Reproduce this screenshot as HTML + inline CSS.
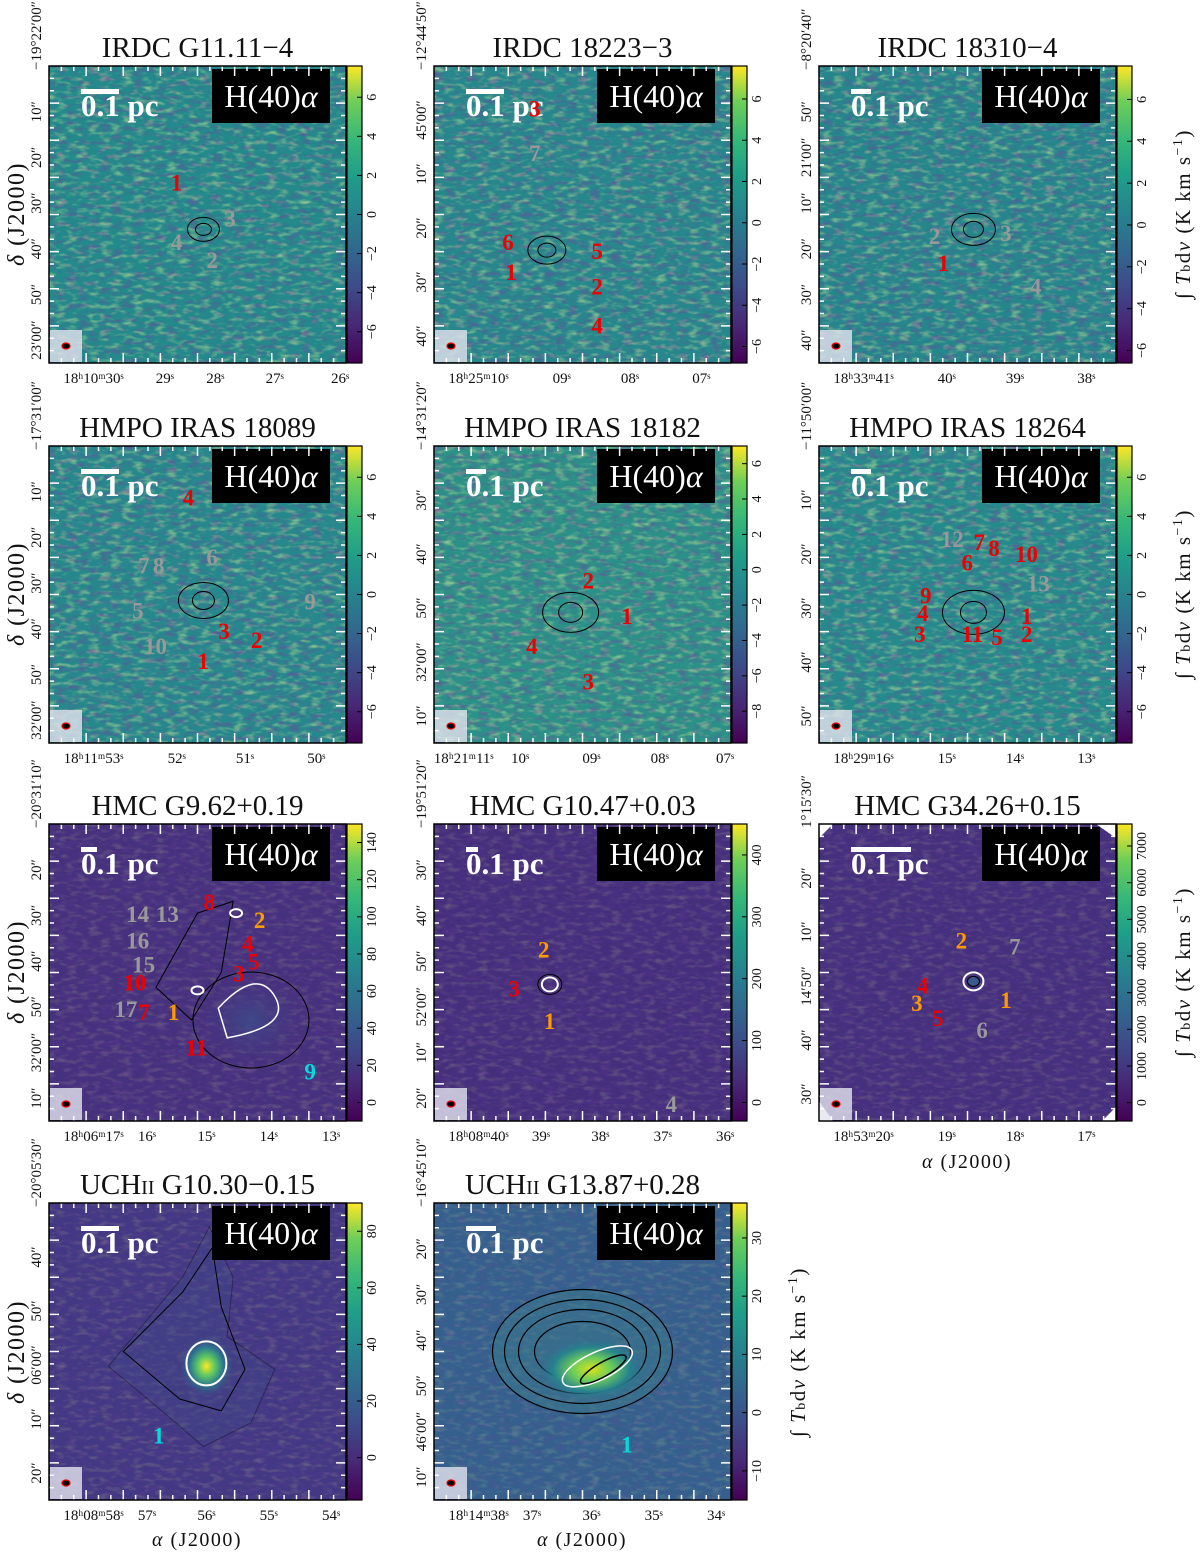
<!DOCTYPE html>
<html><head><meta charset="utf-8">
<style>
body{margin:0;background:#fff;width:1200px;height:1552px;overflow:hidden;font-family:"Liberation Serif",serif}
svg{position:absolute;left:0;top:0}
</style></head>
<body>
<svg id="fig" width="1200" height="1552" viewBox="0 0 1200 1552" xmlns="http://www.w3.org/2000/svg">
<defs>
<filter id="noise" x="0" y="0" width="100%" height="100%">
<feTurbulence type="fractalNoise" baseFrequency="0.09 0.22" numOctaves="2" seed="3"/>
<feColorMatrix type="matrix" values="0 0 0 0 0.85  0 0 0 0 0.95  0 0 0 0 0.3  0 0 0 2.2 -1.05"/>
</filter>
<filter id="noiseDark" x="0" y="0" width="100%" height="100%">
<feTurbulence type="fractalNoise" baseFrequency="0.09 0.22" numOctaves="2" seed="7"/>
<feColorMatrix type="matrix" values="0 0 0 0 0.2  0 0 0 0 0.05  0 0 0 0 0.35  0 0 0 2.2 -1.05"/>
</filter>
<linearGradient id="viridis" x1="0" y1="1" x2="0" y2="0">
<stop offset="0" stop-color="#440154"/><stop offset="0.13" stop-color="#482878"/>
<stop offset="0.25" stop-color="#3e4989"/><stop offset="0.38" stop-color="#31688e"/>
<stop offset="0.5" stop-color="#26828e"/><stop offset="0.63" stop-color="#1f9e89"/>
<stop offset="0.75" stop-color="#35b779"/><stop offset="0.88" stop-color="#6ece58"/>
<stop offset="1" stop-color="#fde725"/></linearGradient>
<radialGradient id="blobA"><stop offset="0" stop-color="#d8e219"/><stop offset="0.35" stop-color="#6ece58"/><stop offset="0.7" stop-color="#26828e"/><stop offset="1" stop-color="#31688e" stop-opacity="0"/></radialGradient>
<radialGradient id="blobB"><stop offset="0" stop-color="#fde725"/><stop offset="0.3" stop-color="#5ec962"/><stop offset="0.6" stop-color="#2a788e"/><stop offset="1" stop-color="#433e85" stop-opacity="0"/></radialGradient>
<radialGradient id="blobC"><stop offset="0" stop-color="#3e4989"/><stop offset="1" stop-color="#46337f" stop-opacity="0"/></radialGradient>
</defs>
<g id="root"></g>
</svg>
<script>
// colorbar data per panel
const cbTicks1=[-6,-4,-2,0,2,4,6], cbRange1=[-7.6,7.6];
const cbTicks2=[-6,-4,-2,0,2,4,6], cbRange2=[-6.8,7.6];
const cbTicks3=[-6,-4,-2,0,2,4,6], cbRange3=[-6.6,7.6];
const cbTicks4=[-6,-4,-2,0,2,4,6], cbRange4=[-7.6,7.6];
const cbTicks5=[-8,-6,-4,-2,0,2,4,6], cbRange5=[-9.8,7.0];
const cbTicks6=[-6,-4,-2,0,2,4,6], cbRange6=[-7.6,7.6];
const cbTicks7=[0,20,40,60,80,100,120,140], cbRange7=[-10,150];
const cbTicks8=[0,100,200,300,400], cbRange8=[-30,450];
const cbTicks9=[0,1000,2000,3000,4000,5000,6000,7000], cbRange9=[-500,7600];
const cbTicks10=[0,20,40,60,80], cbRange10=[-15,90];
const cbTicks11=[-10,0,10,20,30], cbRange11=[-15,36];
const titles=["IRDC G11.11−4","IRDC 18223−3","IRDC 18310−4","HMPO IRAS 18089","HMPO IRAS 18182","HMPO IRAS 18264","HMC G9.62+0.19","HMC G10.47+0.03","HMC G34.26+0.15","UCH<tspan font-size='20'>II</tspan> G10.30−0.15","UCH<tspan font-size='20'>II</tspan> G13.87+0.28"];
const raLabels=[["18ʰ10ᵐ30ˢ","29ˢ","28ˢ","27ˢ","26ˢ"],["18ʰ25ᵐ10ˢ","09ˢ","08ˢ","07ˢ"],["18ʰ33ᵐ41ˢ","40ˢ","39ˢ","38ˢ"],["18ʰ11ᵐ53ˢ","52ˢ","51ˢ","50ˢ"],["18ʰ21ᵐ11ˢ","10ˢ","09ˢ","08ˢ","07ˢ"],["18ʰ29ᵐ16ˢ","15ˢ","14ˢ","13ˢ"],["18ʰ06ᵐ17ˢ","16ˢ","15ˢ","14ˢ","13ˢ"],["18ʰ08ᵐ40ˢ","39ˢ","38ˢ","37ˢ","36ˢ"],["18ʰ53ᵐ20ˢ","19ˢ","18ˢ","17ˢ"],["18ʰ08ᵐ58ˢ","57ˢ","56ˢ","55ˢ","54ˢ"],["18ʰ14ᵐ38ˢ","37ˢ","36ˢ","35ˢ","34ˢ"]];
const raPos=[[0.15,0.39,0.56,0.76,0.98],[0.15,0.43,0.66,0.9],[0.15,0.43,0.66,0.9],[0.15,0.43,0.66,0.9],[0.1,0.29,0.53,0.76,0.98],[0.15,0.43,0.66,0.9],[0.15,0.33,0.53,0.74,0.95],[0.15,0.36,0.56,0.77,0.98],[0.15,0.43,0.66,0.9],[0.15,0.33,0.53,0.74,0.95],[0.15,0.33,0.53,0.74,0.95]];
const decLabels=[["−19°22′00″","10″","20″","30″","40″","50″","23′00″"],["−12°44′50″","45′00″","10″","20″","30″","40″"],["−8°20′40″","50″","21′00″","10″","20″","30″","40″"],["−17°31′00″","10″","20″","30″","40″","50″","32′00″"],["−14°31′20″","30″","40″","50″","32′00″","10″"],["−11°50′00″","10″","20″","30″","40″","50″"],["−20°31′10″","20″","30″","40″","50″","32′00″","10″"],["−19°51′20″","30″","40″","50″","52′00″","10″","20″"],["1°15′30″","20″","10″","14′50″","40″","30″"],["−20°05′30″","40″","50″","06′00″","10″","20″"],["−16°45′10″","20″","30″","40″","50″","46′00″","10″"]];
const cols=[49,434,819], rows=[66,446,824,1203], S=297;
const bgs=["#23898b","#26878c","#25868c","#26888c","#2b9088","#258a8c","#46317e","#452f7d","#45307e","#433883","#35608d"];
const cbT=[cbTicks1,cbTicks2,cbTicks3,cbTicks4,cbTicks5,cbTicks6,cbTicks7,cbTicks8,cbTicks9,cbTicks10,cbTicks11];
const cbR=[cbRange1,cbRange2,cbRange3,cbRange4,cbRange5,cbRange6,cbRange7,cbRange8,cbRange9,cbRange10,cbRange11];
const scaleW=[38,38,20,38,20,20,16,12,60,38,30];
// source labels [text,color,fx,fy]
const srcLabels=[
[["1","#e00",0.41,0.42],["3","#999",0.59,0.54],["4","#999",0.41,0.62],["2","#999",0.53,0.68]],
[["3","#e00",0.32,0.17],["7","#999",0.32,0.32],["6","#e00",0.23,0.62],["5","#e00",0.53,0.65],["1","#e00",0.24,0.72],["2","#e00",0.53,0.77],["4","#e00",0.53,0.9]],
[["2","#999",0.37,0.6],["3","#999",0.61,0.59],["1","#e00",0.4,0.69],["4","#999",0.71,0.77]],
[["4","#e00",0.45,0.2],["7","#999",0.3,0.43],["8","#999",0.35,0.43],["6","#999",0.53,0.4],["9","#999",0.86,0.55],["5","#999",0.28,0.58],["3","#e00",0.57,0.65],["2","#e00",0.68,0.68],["10","#999",0.32,0.7],["1","#e00",0.5,0.75]],
[["2","#e00",0.5,0.48],["1","#e00",0.63,0.6],["4","#e00",0.31,0.7],["3","#e00",0.5,0.82]],
[["12","#999",0.41,0.34],["7","#e00",0.52,0.35],["8","#e00",0.57,0.37],["10","#e00",0.66,0.39],["6","#e00",0.48,0.42],["13","#999",0.7,0.49],["9","#e00",0.34,0.53],["4","#e00",0.33,0.59],["1","#e00",0.68,0.6],["3","#e00",0.32,0.66],["11","#e00",0.48,0.66],["5","#e00",0.58,0.67],["2","#e00",0.68,0.66]],
[["14","#999",0.26,0.33],["13","#999",0.36,0.33],["8","#e00",0.52,0.29],["2","#f90",0.69,0.35],["16","#999",0.26,0.42],["4","#e00",0.65,0.43],["5","#e00",0.67,0.49],["15","#999",0.28,0.5],["3","#e00",0.62,0.53],["10","#e00",0.25,0.56],["17","#999",0.22,0.65],["7","#e00",0.3,0.66],["1","#f90",0.4,0.66],["11","#e00",0.46,0.78],["9","#0dd",0.86,0.86]],
[["2","#f90",0.35,0.45],["3","#e00",0.25,0.58],["1","#f90",0.37,0.69],["4","#999",0.78,0.97]],
[["2","#f90",0.46,0.42],["7","#999",0.64,0.44],["4","#e00",0.33,0.57],["3","#f90",0.31,0.63],["1","#f90",0.61,0.62],["5","#e00",0.38,0.68],["6","#999",0.53,0.72]],
[["1","#0dd",0.35,0.81]],
[["1","#0dd",0.63,0.84]]];
const root=document.getElementById('root');
const NS='http://www.w3.org/2000/svg';
function mk(tag,attrs,parent,txt){const e=document.createElementNS(NS,tag);for(const k in attrs)e.setAttribute(k,attrs[k]);if(txt!==undefined)e.innerHTML=txt;(parent||root).appendChild(e);return e;}
titles.forEach((t,i)=>{
 const x0=cols[i%3], y0=rows[Math.floor(i/3)];
 const g=mk('g',{});
 
 
 const tt=mk('text',{x:x0+S/2,y:y0-9,'text-anchor':'middle','font-size':29,fill:'#111'},g,t);
 
 
 const bg=mk('rect',{x:x0,y:y0,width:S,height:S,fill:bgs[i]},g);
 
 
 mk('rect',{x:x0,y:y0,width:S,height:S,filter:'url(#noise)',opacity:i<6?0.55:0.2},g);
 mk('rect',{x:x0,y:y0,width:S,height:S,filter:'url(#noiseDark)',opacity:i<6?0.6:0.25},g);
 if(i<6){
  const pts=[[0.52,0.55],[0.38,0.62],[0.52,0.55],[0.52,0.52],[0.46,0.56],[0.52,0.56]][i];
  mk('ellipse',{cx:x0+pts[0]*S,cy:y0+pts[1]*S,rx:16+i*3,ry:12+i*2,fill:'none',stroke:'#000','stroke-width':1},g);
  mk('ellipse',{cx:x0+pts[0]*S,cy:y0+pts[1]*S,rx:8+i,ry:6+i,fill:'none',stroke:'#000','stroke-width':1},g);
 }
 if(i==6){
  mk('ellipse',{cx:x0+0.68*S,cy:y0+0.66*S,rx:55,ry:45,fill:'url(#blobC)'},g);
  mk('ellipse',{cx:x0+0.68*S,cy:y0+0.66*S,rx:58,ry:48,fill:'none',stroke:'#000'},g);
  mk('path',{d:`M${x0+0.57*S} ${y0+0.62*S} Q${x0+0.7*S} ${y0+0.48*S} ${x0+0.76*S} ${y0+0.58*S} T${x0+0.6*S} ${y0+0.72*S} Z`,fill:'none',stroke:'#fff','stroke-width':1.5},g);
  mk('path',{d:`M${x0+0.36*S} ${y0+0.55*S} L${x0+0.5*S} ${y0+0.3*S} L${x0+0.62*S} ${y0+0.26*S} L${x0+0.58*S} ${y0+0.5*S} L${x0+0.48*S} ${y0+0.66*S} Z`,fill:'none',stroke:'#000'},g);
  mk('ellipse',{cx:x0+0.5*S,cy:y0+0.56*S,rx:6,ry:4,fill:'none',stroke:'#fff','stroke-width':2},g);
  mk('ellipse',{cx:x0+0.63*S,cy:y0+0.3*S,rx:6,ry:4,fill:'none',stroke:'#fff','stroke-width':2},g);
 }
 if(i==7){mk('ellipse',{cx:x0+0.39*S,cy:y0+0.54*S,rx:8,ry:7,fill:'none',stroke:'#fff','stroke-width':2},g);mk('ellipse',{cx:x0+0.39*S,cy:y0+0.54*S,rx:12,ry:10,fill:'none',stroke:'#000'},g);}
 if(i==8){mk('ellipse',{cx:x0+0.52*S,cy:y0+0.53*S,rx:10,ry:9,fill:'none',stroke:'#fff','stroke-width':2},g);mk('ellipse',{cx:x0+0.52*S,cy:y0+0.53*S,rx:6,ry:5,fill:'#3a5a8c',stroke:'#000'},g);
  mk('path',{d:`M${x0} ${y0} h14 l-14 14 Z M${x0+S} ${y0+S} h-14 l14 -14 Z M${x0+S-20} ${y0} h20 v14 Z M${x0} ${y0+S-20} v20 h14 Z`,fill:'#fff'},g);}
 if(i==9){
  mk('path',{d:`M${x0+0.2*S} ${y0+0.55*S} L${x0+0.45*S} ${y0+0.25*S} L${x0+0.54*S} ${y0+0.08*S} L${x0+0.62*S} ${y0+0.25*S} L${x0+0.6*S} ${y0+0.45*S} L${x0+0.76*S} ${y0+0.56*S} L${x0+0.68*S} ${y0+0.74*S} L${x0+0.52*S} ${y0+0.82*S} L${x0+0.38*S} ${y0+0.7*S} Z`,fill:'#3e4a89',opacity:0.35,stroke:'#000'},g);
  mk('path',{d:`M${x0+0.25*S} ${y0+0.5*S} L${x0+0.45*S} ${y0+0.3*S} L${x0+0.55*S} ${y0+0.15*S} L${x0+0.58*S} ${y0+0.35*S} L${x0+0.66*S} ${y0+0.56*S} L${x0+0.58*S} ${y0+0.7*S} L${x0+0.44*S} ${y0+0.66*S} Z`,fill:'none',stroke:'#000'},g);
  mk('ellipse',{cx:x0+0.53*S,cy:y0+0.55*S,rx:28,ry:32,fill:'url(#blobB)'},g);
  mk('ellipse',{cx:x0+0.53*S,cy:y0+0.54*S,rx:20,ry:22,fill:'none',stroke:'#fff','stroke-width':2},g);
 }
 if(i==10){
  [[90,62],[78,52],[64,42],[48,30]].forEach(r=>mk('ellipse',{cx:x0+0.5*S,cy:y0+0.5*S,rx:r[0],ry:r[1],fill:r[0]==90?'#3a7a8c':'none','fill-opacity':0.5,stroke:'#000','stroke-width':1.2},g));
  mk('ellipse',{cx:x0+0.53*S,cy:y0+0.56*S,rx:55,ry:32,fill:'url(#blobA)'},g);
  mk('ellipse',{cx:x0+0.55*S,cy:y0+0.55*S,rx:38,ry:14,fill:'none',stroke:'#fff','stroke-width':1.5,transform:`rotate(-25 ${x0+0.55*S} ${y0+0.55*S})`},g);
  mk('ellipse',{cx:x0+0.57*S,cy:y0+0.56*S,rx:26,ry:7,fill:'none',stroke:'#000','stroke-width':1.5,transform:`rotate(-30 ${x0+0.57*S} ${y0+0.56*S})`},g);
 }
 const bb=mk('rect',{x:x0+1,y:y0+S-33,width:32,height:32,fill:'#e4e4ef',opacity:0.8},g);
 
 
 mk('ellipse',{cx:x0+17,cy:y0+S-17,rx:4,ry:3,fill:'#000',stroke:'#e00','stroke-width':1.2},g);
 const lb=mk('rect',{x:x0+S-134,y:y0+3,width:118,height:54,fill:'#000'},g);
 
 
 mk('text',{x:x0+S-75,y:y0+41,'text-anchor':'middle','font-size':32,fill:'#fff'},g,'H(40)<tspan font-style="italic">α</tspan>');
 const sb=mk('rect',{x:x0+32,y:y0+23,width:scaleW[i],height:5,fill:'#fff'},g);
 
 
 mk('text',{x:x0+32,y:y0+50,'font-size':31,'font-weight':'bold',fill:'#fff'},g,'0.1 pc');
 srcLabels[i].forEach(s=>{const e=mk('text',{x:x0+s[2]*S,y:y0+s[3]*S,'font-size':23,'font-weight':'bold',fill:s[1]},g,s[0]);
  
  });
 for(let k=1;k<24;k++){const tx=x0+k*S/24;const L=k%3==0?10:5;
  mk('line',{x1:tx,y1:y0,x2:tx,y2:y0+L,stroke:'#fff','stroke-width':1.5},g);
  mk('line',{x1:tx,y1:y0+S,x2:tx,y2:y0+S-L,stroke:'#fff','stroke-width':1.5},g);
  mk('line',{x1:x0,y1:y0+k*S/24,x2:x0+L,y2:y0+k*S/24,stroke:'#fff','stroke-width':1.5},g);
  mk('line',{x1:x0+S,y1:y0+k*S/24,x2:x0+S-L,y2:y0+k*S/24,stroke:'#fff','stroke-width':1.5},g);}
 mk('rect',{x:x0,y:y0,width:S,height:S,fill:'none',stroke:'#000','stroke-width':1.5},g);
 raLabels[i].forEach((l,k)=>{const e=mk('text',{x:x0+raPos[i][k]*S,y:y0+S+20,'text-anchor':'middle','font-size':15,fill:'#111'},g,l);
  
  });
 const n=decLabels[i].length;
 decLabels[i].forEach((l,k)=>{const yy=k==0?y0+4:y0+k*S/(n-0.5);const e=mk('text',{x:x0-8,y:yy,'text-anchor':k==0?'start':'middle','font-size':15,fill:'#111',transform:`rotate(-90 ${x0-8} ${yy})`},g,l);
  
  });
 const cbx=x0+S+1, cbw=15;
 const cb=mk('rect',{x:cbx,y:y0,width:cbw,height:S,fill:'url(#viridis)',stroke:'#000','stroke-width':1.2},g);
 
 
 const [vmin,vmax]=cbR[i];
 const cy2=v=>y0+S-(v-vmin)/(vmax-vmin)*S;
 cbT[i].forEach(v=>{const yy=cy2(v);
  mk('line',{x1:cbx+cbw-5,y1:yy,x2:cbx+cbw,y2:yy,stroke:'#000'},g);
  const e=mk('text',{x:cbx+cbw+14,y:yy,'text-anchor':'middle','font-size':14,fill:'#111',transform:`rotate(-90 ${cbx+cbw+14} ${yy})`},g,(v<0?'−':'')+Math.abs(v));
  
  });
});
function axisT(x,y,rot,txt,name,fs){const e=mk('text',{x:x,y:y,'text-anchor':'middle','font-size':fs||22,'letter-spacing':1.5,fill:'#111',transform:rot?`rotate(-90 ${x} ${y})`:''},root,txt);
 
 }
[214,594,972,1352].forEach(y=>axisT(24,y,true,'<tspan font-style="italic">δ</tspan> (J2000)','y-axis-title',24));
const cbTitle='∫ <tspan font-style="italic">T</tspan><tspan font-size="14">b</tspan>d<tspan font-style="italic">v</tspan> (K km s<tspan font-size="14" dy="-8">−1</tspan><tspan dy="8">)</tspan>';
[214,594,972].forEach(y=>axisT(1190,y,true,cbTitle,'colorbar-title',21));
axisT(805,1352,true,cbTitle,'colorbar-title',21);
axisT(967,1168,false,'<tspan font-style="italic">α</tspan> (J2000)','x-axis-title',20);
axisT(197,1546,false,'<tspan font-style="italic">α</tspan> (J2000)','x-axis-title',20);
axisT(582,1546,false,'<tspan font-style="italic">α</tspan> (J2000)','x-axis-title',20);
</script>
</body></html>
